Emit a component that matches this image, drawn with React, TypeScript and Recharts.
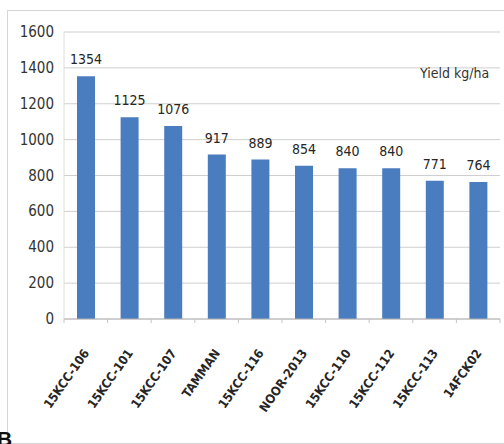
import React from "react"
import {
  BarChart,
  Bar,
  XAxis,
  YAxis,
  CartesianGrid,
  Legend,
  LabelList,
} from "recharts"

const genotypes = [
  "15KCC-106",
  "15KCC-101",
  "15KCC-107",
  "TAMMAN",
  "15KCC-116",
  "NOOR-2013",
  "15KCC-110",
  "15KCC-112",
  "15KCC-113",
  "14FCK02",
]
const yieldKgHa = [1354, 1125, 1076, 917, 889, 854, 840, 840, 771, 764]
const yTicks = [0, 200, 400, 600, 800, 1000, 1200, 1400, 1600]

const data = genotypes.map((name, i) => ({ name, yield: yieldKgHa[i] }))

const FONT = '"DejaVu Sans Condensed", "Liberation Sans Narrow", sans-serif'
const BAR_BLUE = "#4a7dc0"

const CHART_W = 504
const CHART_H = 444
const MARGIN = { top: 32, right: 4, left: 0, bottom: 15 }
const Y_AXIS_W = 64

// half of one category band, used to put the small tick marks between bars
const HALF_BAND = (CHART_W - MARGIN.left - MARGIN.right - Y_AXIS_W) / genotypes.length / 2

function GenotypeTick(props: any) {
  const { x, y, payload } = props
  return (
    <g>
      <line x1={x - HALF_BAND} y1={y} x2={x - HALF_BAND} y2={y + 4} stroke="#c4c4c4" />
      {payload.index === genotypes.length - 1 && (
        <line x1={x + HALF_BAND} y1={y} x2={x + HALF_BAND} y2={y + 4} stroke="#c4c4c4" />
      )}
      <text
        x={x + 4}
        y={y + 34}
        textAnchor="end"
        transform={`rotate(-55 ${x + 4} ${y + 34})`}
        fontFamily={FONT}
        fontSize={12.5}
        fontWeight="bold"
        fill="#262626"
      >
        {payload.value}
      </text>
    </g>
  )
}

function YieldTick(props: any) {
  const { y, payload } = props
  return (
    <text
      x={54}
      y={y}
      dy={5}
      textAnchor="end"
      fontFamily={FONT}
      fontSize={15}
      fill="#333"
    >
      {payload.value}
    </text>
  )
}

function YieldLegend() {
  return (
    <span style={{ fontFamily: FONT, fontSize: 14, color: "#333" }}>
      Yield kg/ha
    </span>
  )
}

export default function App() {
  return (
    <div
      style={{
        position: "absolute",
        left: 0,
        top: 0,
        width: CHART_W,
        height: CHART_H,
        overflow: "hidden",
        background: "#fff",
      }}
    >
      <div
        style={{
          position: "absolute",
          left: 7,
          top: 10,
          width: 520,
          height: 432,
          border: "1px solid #d6d6d6",
        }}
      />
      <BarChart
        width={CHART_W}
        height={CHART_H}
        data={data}
        margin={MARGIN}
        style={{ position: "absolute", left: 0, top: 0 }}
      >
        <CartesianGrid vertical={false} stroke="#cfcfcf" />
        <XAxis
          dataKey="name"
          interval={0}
          height={110}
          tickSize={0}
          tickMargin={0}
          tickLine={false}
          stroke="#b5b5b5"
          tick={<GenotypeTick />}
        />
        <YAxis
          width={Y_AXIS_W}
          domain={[0, 1600]}
          ticks={yTicks}
          tickLine={false}
          stroke="#dcdcdc"
          tick={<YieldTick />}
        />
        <Legend
          content={<YieldLegend />}
          layout="horizontal"
          verticalAlign="middle"
          align="center"
          wrapperStyle={{ top: 64, left: 420, width: 84, height: 18 }}
        />
        <Bar dataKey="yield" fill={BAR_BLUE} barSize={18} isAnimationActive={false}>
          <LabelList
            dataKey="yield"
            position="top"
            offset={12}
            fill="#262626"
            fontSize={14}
            fontFamily={FONT}
          />
        </Bar>
      </BarChart>
      <svg
        width={CHART_W}
        height={CHART_H}
        style={{ position: "absolute", left: 0, top: 0, pointerEvents: "none" }}
      >
        <text
          x={-3}
          y={446}
          fontFamily='"Liberation Sans", sans-serif'
          fontWeight="bold"
          fontSize={21}
          fill="#111"
        >
          B
        </text>
      </svg>
    </div>
  )
}
